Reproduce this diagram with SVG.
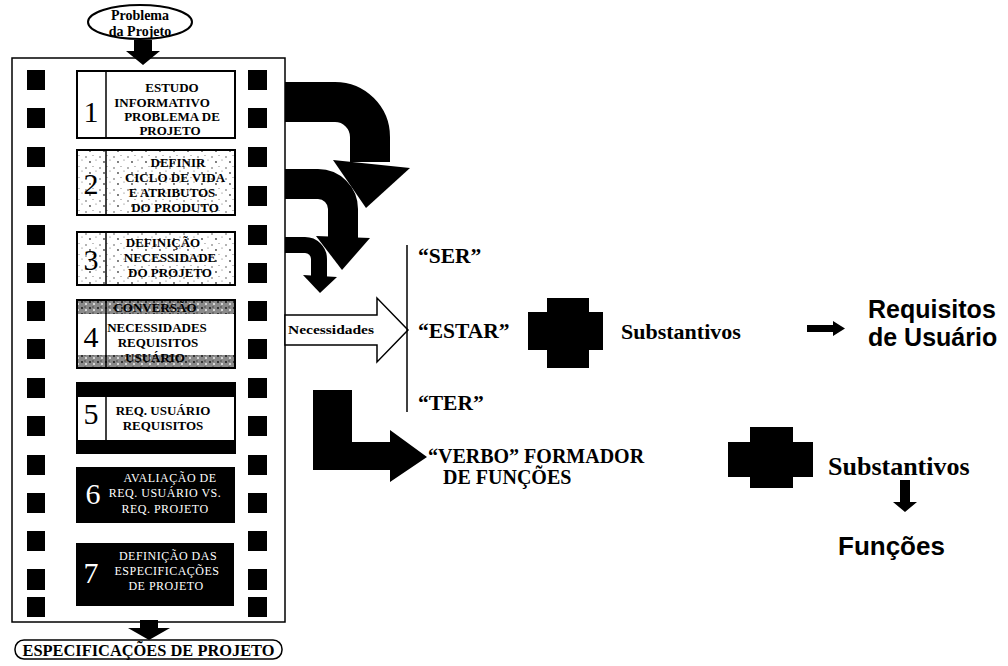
<svg xmlns="http://www.w3.org/2000/svg" width="1008" height="666" viewBox="0 0 1008 666">
<defs>
<pattern id="speck" width="14" height="11" patternUnits="userSpaceOnUse">
<rect width="14" height="11" fill="#fff"/>
<circle cx="2" cy="3" r="0.8" fill="#555"/>
<circle cx="9" cy="1.5" r="0.6" fill="#777"/>
<circle cx="6" cy="8" r="0.9" fill="#444"/>
<circle cx="12" cy="6" r="0.6" fill="#666"/>
</pattern>
<pattern id="speckDark" width="8" height="6" patternUnits="userSpaceOnUse">
<rect width="8" height="6" fill="#8a8a8a"/>
<circle cx="2" cy="2" r="1.1" fill="#222"/>
<circle cx="6" cy="4" r="1" fill="#eee"/>
<circle cx="5" cy="1" r="0.7" fill="#333"/>
</pattern>
<style>
.hole{fill:#000}
.box{stroke:#000;stroke-width:2}
.st{font-family:"Liberation Serif","Times New Roman",serif;font-weight:bold;font-size:13px;text-anchor:middle;fill:#000}
.stw{font-family:"Liberation Serif","Times New Roman",serif;font-size:12px;text-anchor:middle;fill:#fff;letter-spacing:0.5px}
.num{font-family:"Liberation Serif","Times New Roman",serif;font-size:30px;text-anchor:middle;fill:#000}
.numw{font-family:"Liberation Serif","Times New Roman",serif;font-size:30px;text-anchor:middle;fill:#fff}
.lbl{font-family:"Liberation Serif","Times New Roman",serif;font-weight:bold;font-size:20px;fill:#000}
.big{font-size:21.5px}
.sub{font-family:"Liberation Serif","Times New Roman",serif;font-weight:bold;font-size:22px;fill:#000}
.sans{font-family:"Liberation Sans",Arial,sans-serif;font-weight:bold;font-size:25px;fill:#000}
.blk{fill:#000}
</style>
</defs>
<rect width="1008" height="666" fill="#fff"/>

<g id="node-problema">
<ellipse cx="140" cy="22" rx="52" ry="17" fill="#fff" stroke="#000" stroke-width="2"/>
<text x="140" y="20" class="st" style="font-size:14px">Problema</text>
<text x="140" y="36" class="st" style="font-size:14px">da Projeto</text>
</g>

<g id="node-film">
<rect x="12" y="58" width="273" height="564" fill="#fff" stroke="#000" stroke-width="1.5"/>
<g class="hole">
<rect x="27" y="70" width="18" height="20"/><rect x="27" y="108" width="18" height="20"/><rect x="27" y="147" width="18" height="20"/><rect x="27" y="186" width="18" height="20"/><rect x="27" y="225" width="18" height="20"/><rect x="27" y="263" width="18" height="20"/><rect x="27" y="301" width="18" height="20"/><rect x="27" y="339" width="18" height="20"/><rect x="27" y="378" width="18" height="20"/><rect x="27" y="416" width="18" height="20"/><rect x="27" y="455" width="18" height="20"/><rect x="27" y="493" width="18" height="20"/><rect x="27" y="531" width="18" height="20"/><rect x="27" y="569" width="18" height="21"/><rect x="27" y="597" width="18" height="20"/>
<rect x="248" y="70" width="19" height="20"/><rect x="248" y="108" width="19" height="20"/><rect x="248" y="147" width="19" height="20"/><rect x="248" y="186" width="19" height="20"/><rect x="248" y="225" width="19" height="20"/><rect x="248" y="263" width="19" height="20"/><rect x="248" y="301" width="19" height="20"/><rect x="248" y="339" width="19" height="20"/><rect x="248" y="378" width="19" height="20"/><rect x="248" y="416" width="19" height="20"/><rect x="248" y="455" width="19" height="20"/><rect x="248" y="493" width="19" height="20"/><rect x="248" y="531" width="19" height="20"/><rect x="248" y="569" width="19" height="21"/><rect x="248" y="597" width="19" height="20"/>
</g>
</g>

<g id="node-step1">
<rect x="77" y="71" width="158" height="67" fill="#fff" class="box"/>
<line x1="106" y1="71" x2="106" y2="138" stroke="#000" stroke-width="1.5"/>
<text x="91" y="122" class="num">1</text>
<text x="172" y="92" class="st">ESTUDO</text>
<text x="162" y="107" class="st">INFORMATIVO</text>
<text x="172" y="121" class="st">PROBLEMA DE</text>
<text x="170" y="135" class="st">PROJETO</text>
</g>

<g id="node-step2">
<rect x="77" y="150" width="158" height="65" fill="url(#speck)" class="box"/>
<line x1="106" y1="150" x2="106" y2="215" stroke="#000" stroke-width="1.5"/>
<text x="91" y="194" class="num">2</text>
<text x="178" y="167" class="st">DEFINIR</text>
<text x="175" y="182" class="st">CICLO DE VIDA</text>
<text x="172" y="197" class="st">E ATRIBUTOS</text>
<text x="175" y="212" class="st">DO PRODUTO</text>
</g>

<g id="node-step3">
<rect x="77" y="232" width="158" height="53" fill="url(#speck)" class="box"/>
<line x1="106" y1="232" x2="106" y2="285" stroke="#000" stroke-width="1.5"/>
<text x="91" y="270" class="num">3</text>
<text x="163" y="247" class="st">DEFINIÇÃO</text>
<text x="170" y="262" class="st">NECESSIDADE</text>
<text x="170" y="277" class="st">DO PROJETO</text>
</g>

<g id="node-step4">
<rect x="77" y="300" width="158" height="68" fill="#fff" class="box"/>
<rect x="78" y="301" width="156" height="13" fill="url(#speckDark)"/>
<rect x="78" y="355" width="156" height="12" fill="url(#speckDark)"/>
<line x1="106" y1="300" x2="106" y2="368" stroke="#000" stroke-width="1.5"/>
<text x="91" y="347" class="num">4</text>
<text x="155" y="312" class="st">CONVERSÃO</text>
<text x="157" y="332" class="st">NECESSIDADES</text>
<text x="158" y="347" class="st">REQUISITOS</text>
<text x="155" y="362" class="st">USUÁRIO</text>
</g>

<g id="node-step5">
<rect x="77" y="383" width="158" height="70" fill="#fff" class="box"/>
<rect x="77" y="383" width="158" height="14" class="blk"/>
<rect x="77" y="440" width="158" height="13" class="blk"/>
<line x1="106" y1="397" x2="106" y2="440" stroke="#000" stroke-width="1.5"/>
<text x="91" y="424" class="num">5</text>
<text x="163" y="415" class="st">REQ. USUÁRIO</text>
<text x="163" y="430" class="st">REQUISITOS</text>
</g>

<g id="node-step6">
<rect x="76" y="467" width="159" height="56" class="blk"/>
<text x="93" y="504" class="numw">6</text>
<text x="170" y="482" class="stw">AVALIAÇÃO DE</text>
<text x="165" y="497" class="stw">REQ. USUÁRIO VS.</text>
<text x="165" y="513" class="stw">REQ. PROJETO</text>
</g>

<g id="node-step7">
<rect x="76" y="543" width="158" height="63" class="blk"/>
<text x="91" y="583" class="numw">7</text>
<text x="168" y="560" class="stw">DEFINIÇÃO DAS</text>
<text x="167" y="575" class="stw">ESPECIFICAÇÕES</text>
<text x="166" y="590" class="stw">DE PROJETO</text>
</g>

<g id="node-especificacoes">
<rect x="15" y="640" width="267" height="19" rx="9" ry="9" fill="#fff" stroke="#000" stroke-width="1.5"/>
<text x="148.5" y="656" class="st" style="font-size:16px" textLength="252" lengthAdjust="spacingAndGlyphs">ESPECIFICAÇÕES DE PROJETO</text>
</g>

<g id="node-ser"><text x="418" y="263" class="lbl big">“SER”</text></g>
<g id="node-estar"><text x="418" y="338" class="lbl big">“ESTAR”</text></g>
<g id="node-ter"><text x="418" y="410" class="lbl big">“TER”</text></g>

<g id="node-plus1"><polygon class="blk" points="547,298 589,298 589,312 603,312 603,350 589,350 589,368 547,368 547,350 528,350 528,312 547,312"/></g>
<g id="node-substantivos1"><text x="621" y="339" class="sub">Substantivos</text></g>
<g id="node-requisitos">
<text x="868" y="318" class="sans">Requisitos</text>
<text x="868" y="346" class="sans">de Usuário</text>
</g>
<g id="node-verbo">
<text x="428" y="463" class="lbl">“VERBO” FORMADOR</text>
<text x="443" y="484" class="lbl">DE FUNÇÕES</text>
</g>
<g id="node-plus2"><polygon class="blk" points="750,427 793,427 793,442 813,442 813,477 793,477 793,488 750,488 750,477 728,477 728,442 750,442"/></g>
<g id="node-substantivos2"><text x="828" y="475" class="sub" style="font-size:26px">Substantivos</text></g>
<g id="node-funcoes"><text x="838" y="555" class="sans" style="font-size:26px">Funções</text></g>

<g id="connectors">
<polygon class="blk" points="134,40 152,40 152,51 160,51 143,65 126,51 134,51"/>
<polygon class="blk" points="140,620 158,620 158,628 170,628 149,640 128,628 140,628"/>
<path d="M285,102 H335 A35,35 0 0 1 370,137 V162" fill="none" stroke="#000" stroke-width="40"/>
<polygon class="blk" points="333,160 410,168 366,208"/>
<path d="M285,184 H318 A25,25 0 0 1 343,209 V238" fill="none" stroke="#000" stroke-width="30"/>
<polygon class="blk" points="316,236 370,238 342,270"/>
<path d="M285,245 H305 A14,14 0 0 1 319,259 V277" fill="none" stroke="#000" stroke-width="16"/>
<polygon class="blk" points="303,275 337,277 320,293"/>
<polygon points="285,315 377,315 377,298 408,330 377,362 377,345 285,345" fill="#fff" stroke="#000" stroke-width="1.5"/>
<text x="331" y="334" class="st" style="font-size:12px" textLength="86" lengthAdjust="spacingAndGlyphs">Necessidades</text>
<line x1="407" y1="245" x2="407" y2="412" stroke="#000" stroke-width="1.5"/>
<polygon class="blk" points="313,390 352,390 352,442 390,442 390,430 427,457 390,482 390,470 313,470"/>
<polygon class="blk" points="807,325 833,325 833,321 845,328.5 833,336 833,332 807,332"/>
<polygon class="blk" points="900,480 910,480 910,502 917,502 905,512 893,502 900,502"/>
</g>
</svg>
